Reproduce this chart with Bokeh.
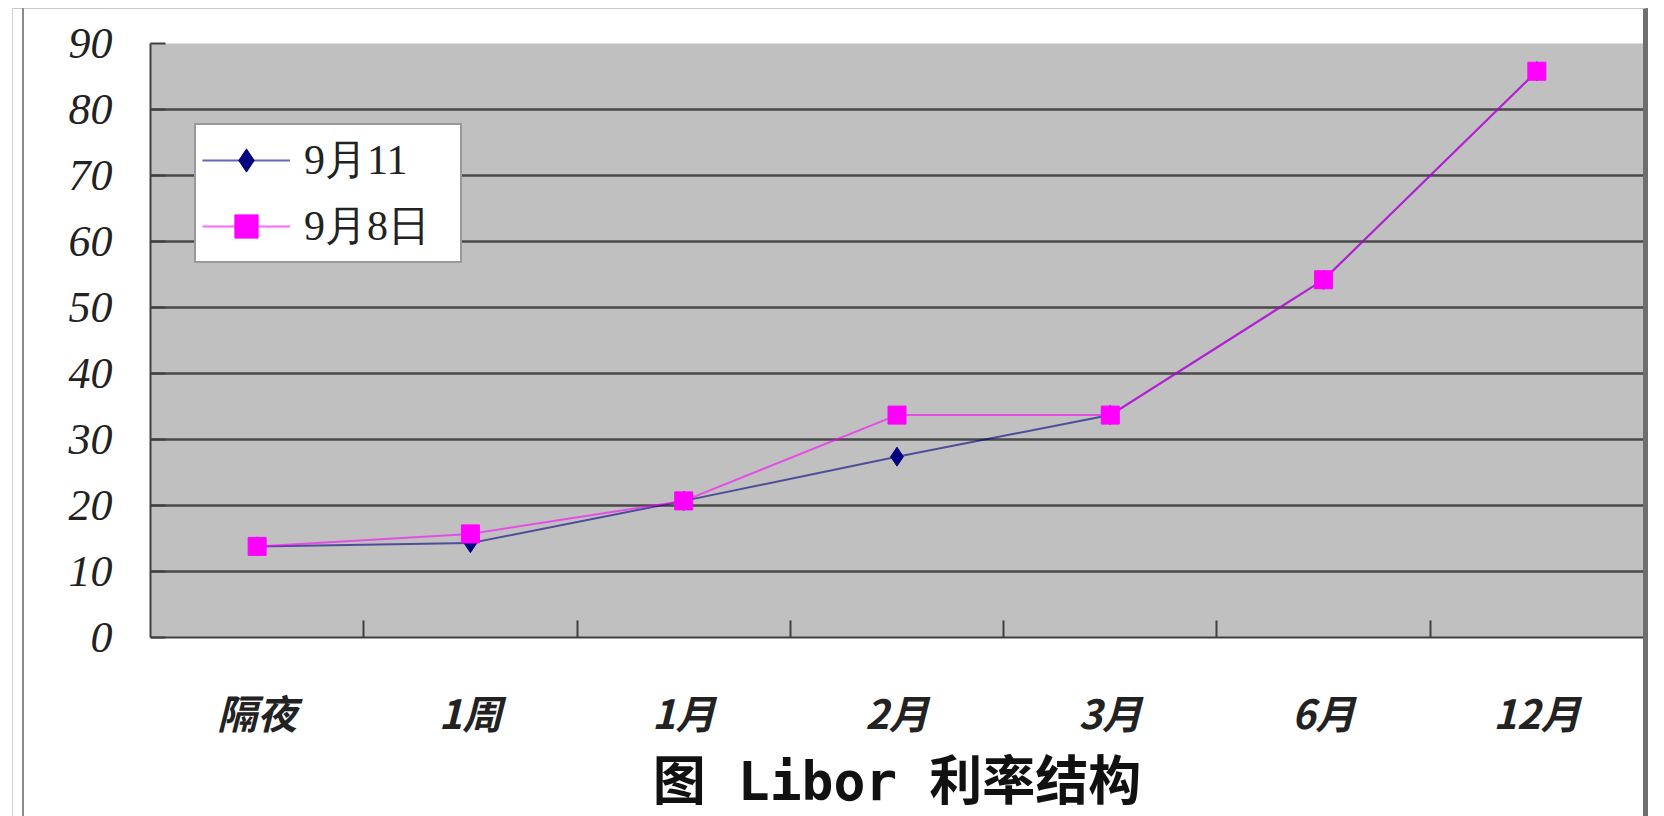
from bokeh.plotting import figure
from bokeh.models import (FixedTicker, Legend, LegendItem, Title, Range1d,
                          ColumnDataSource, InlineStyleSheet)
from bokeh.embed import file_html
from bokeh.resources import INLINE

# ---- data ----
categories = ["隔夜", "1周", "1月", "2月", "3月", "6月", "12月"]
sep11 = [13.8, 14.3, 20.7, 27.4, 33.7, 54.2, 85.8]
sep8 = [13.8, 15.7, 20.7, 33.7, 33.7, 54.2, 85.8]
series_names = ["9月11", "9月8日"]
y_ticks = [0, 10, 20, 30, 40, 50, 60, 70, 80, 90]
grid_ticks = [10, 20, 30, 40, 50, 60, 70, 80]
title_text = "图 Libor 利率结构"

x_pos = [i + 0.5 for i in range(len(categories))]
src = ColumnDataSource(dict(x=x_pos, a=sep11, b=sep8))

W, H = 1664, 816
p = figure(width=W, height=H, output_backend="svg", toolbar_location=None,
           x_range=Range1d(0, len(categories)), y_range=Range1d(0, 90),
           min_border_left=150, min_border_right=21, min_border_top=43,
           min_border_bottom=178)

p.background_fill_color = "#C0C0C0"
p.border_fill_color = "white"
p.outline_line_color = None

# y axis
ya = p.yaxis[0]
ya.ticker = FixedTicker(ticks=y_ticks)
ya.axis_line_color = "#404040"
ya.axis_line_width = 2
ya.major_tick_in = 15
ya.major_tick_out = 0
ya.major_tick_line_color = "#404040"
ya.major_tick_line_width = 2
ya.minor_tick_line_color = None
ya.major_label_text_font = "Liberation Serif"
ya.major_label_text_font_style = "italic"
ya.major_label_text_font_size = "44px"
ya.major_label_text_color = "#222222"
ya.major_label_standoff = 38

# x axis: labels at category centres, tick marks at boundaries
xa = p.xaxis[0]
xa.ticker = FixedTicker(ticks=x_pos, minor_ticks=list(range(1, len(categories))))
xa.major_label_overrides = {x: c for x, c in zip(x_pos, categories)}
xa.axis_line_color = "#404040"
xa.axis_line_width = 2
xa.major_tick_in = 0
xa.major_tick_out = 0
xa.minor_tick_in = 17
xa.minor_tick_out = 0
xa.minor_tick_line_color = "#404040"
xa.minor_tick_line_width = 2
xa.major_label_text_font = "Noto Sans CJK SC"
xa.major_label_text_font_style = "bold italic"
xa.major_label_text_font_size = "40px"
xa.major_label_text_color = "#222222"
xa.major_label_standoff = 45

p.xgrid.grid_line_color = None
p.ygrid.ticker = FixedTicker(ticks=grid_ticks)
p.ygrid.grid_line_color = "#4a4a4a"
p.ygrid.grid_line_width = 2.5

# series
l1 = p.line("x", "a", source=src, line_color="#000080", line_alpha=0.6, line_width=2)
m1 = p.scatter("x", "a", source=src, marker="diamond", size=19,
               fill_color="#000080", line_color="#000080")
l2 = p.line("x", "b", source=src, line_color="#FF00FF", line_alpha=0.6, line_width=2)
m2 = p.scatter("x", "b", source=src, marker="square", size=18,
               fill_color="#FF00FF", line_color="#FF00FF")

legend = Legend(items=[LegendItem(label=series_names[0], renderers=[l1, m1]),
                       LegendItem(label=series_names[1], renderers=[l2, m2])],
                location=(44, 374), margin=0, padding=6, spacing=8,
                glyph_width=88, glyph_height=58, label_height=58, label_width=150,
                label_standoff=14,
                label_text_font="Liberation Serif", label_text_font_size="42px",
                label_text_color="#222222",
                border_line_color="#333333", border_line_width=2,
                background_fill_color="white", background_fill_alpha=1.0)
p.add_layout(legend, "center")

# title below
t = Title(text=title_text, align="center",
          text_font="'DejaVu Sans Mono', 'Noto Sans CJK SC'",
          text_font_size="53px", text_font_style="bold", text_color="#111111",
          standoff=10)
p.add_layout(t, "below")

# page frame lines (decoration only)
css = """
:host::before { content: ""; position: absolute; left: 12px; top: 8px;
  width: 1636px; height: 808px; box-sizing: border-box;
  border-top: 1px solid #c8c8c8; border-left: 1px solid #d0d0d0;
  border-right: 5px solid #6e6e6e; pointer-events: none; z-index: 10; }
:host::after { content: ""; position: absolute; left: 22px; top: 8px;
  width: 2px; height: 808px; background: #8c8c8c; pointer-events: none; z-index: 10; }
"""
p.stylesheets = [InlineStyleSheet(css=css)]

open("out.html", "w").write(file_html(p, INLINE))
